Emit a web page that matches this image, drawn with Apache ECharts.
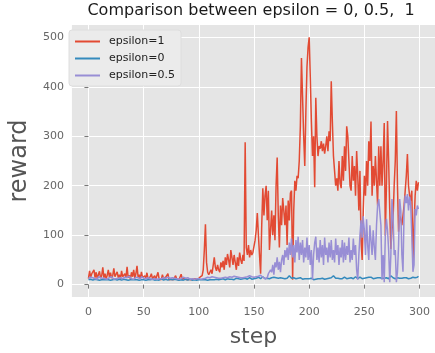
<!DOCTYPE html>
<html>
<head>
<meta charset="utf-8">
<script src="https://cdn.jsdelivr.net/npm/echarts@6/dist/echarts.min.js"></script>
<style>
html,body{margin:0;padding:0;background:#ffffff;}
#main{width:435px;height:353px;}
</style>
</head>
<body>
<div id="main"></div>
<script>
// ---- data ----
const titleText = 'Comparison between epsilon = 0, 0.5,  1';
const seriesNames = ['epsilon=1', 'epsilon=0', 'epsilon=0.5'];
const xTicks = [0, 50, 100, 150, 200, 250, 300];
const yTicks = [0, 100, 200, 300, 400, 500];

const rewardEps1 = [
12,28,15,22,18,30,14,25,12,20, 27,13,18,35,14,22,12,19,30,15,
24,13,18,33,16,12,26,14,20,11, 28,16,13,22,15,36,14,19,12,25,
16,30,13,22,38,15,20,12,26,14, 11,18,13,24,12,10,16,22,12,14,
18,11,13,25,12,14,10,20,13,11, 15,12,22,10,13,11,14,10,12,18,
11,13,10,12,21,11,10,13,11,10, 14,11,12,10,13,11,10,12,14,11,
12,15,13,18,30,70,122,45,25,20, 18,30,22,26,55,35,28,40,30,25,
45,35,48,30,55,40,62,50,35,70, 55,40,60,45,30,55,38,65,50,42,
60,48,288,75,60,80,55,70,60,65, 65,90,110,145,100,60,22,120,195,140,
180,200,130,190,70,110,150,100,140,90, 200,257,140,75,160,120,175,150,120,160,
80,170,130,185,190,10,150,210,190,220, 215,250,320,458,380,300,240,350,440,480,
500,420,330,260,300,197,378,300,260,280, 275,290,270,285,265,280,300,270,310,290,
411,330,260,230,200,215,190,250,205,195, 260,210,280,230,320,300,250,200,190,260,
210,240,180,270,220,150,230,90,50,150, 220,180,250,200,290,250,330,180,240,200,
260,210,160,280,200,280,200,250,327,99, 200,331,250,150,72,110,133,200,250,351,
200,107,140,133,120,140,160,190,220,264, 200,180,170,190,42,120,180,210,190,207
];

const rewardEps0 = [
10,9,11,10,9,10,11,9,10,10, 9,11,10,9,10,12,10,9,10,11,
9,10,10,9,11,10,9,10,11,10, 9,10,11,9,10,10,9,11,10,9,
10,12,10,9,10,11,9,10,10,9, 10,11,9,10,10,11,10,9,11,10,
9,10,10,11,9,10,12,10,9,10, 11,10,9,10,11,9,10,10,11,9,
10,10,9,11,10,10,9,10,11,10, 9,10,11,10,9,10,10,11,9,10,
10,11,10,9,10,12,10,10,9,11, 10,9,10,11,10,10,11,9,10,12,
11,10,12,11,10,11,12,10,11,12, 11,12,10,11,13,11,12,10,11,12,
12,11,13,12,11,12,14,12,11,13, 12,14,13,12,15,13,12,14,16,13,
12,14,13,15,12,13,14,12,15,13, 14,12,13,16,14,12,13,15,12,14,
13,15,18,16,13,12,14,13,12,14, 13,12,14,12,11,13,12,14,12,11,
12,11,13,12,10,12,11,13,12,11, 12,14,13,12,11,13,12,11,13,12,
14,16,18,15,13,12,13,14,12,13, 12,13,15,13,12,14,13,12,14,13,
12,14,16,14,12,13,15,13,12,14, 13,12,14,13,15,17,15,13,12,14,
13,12,14,16,14,12,13,15,13,12, 14,13,12,14,18,16,14,13,12,13,
14,12,13,15,13,12,14,16,14,13, 12,14,13,12,15,17,14,13,15,17
];

const rewardEps05 = [
13,11,15,12,14,17,12,13,11,16, 12,14,11,13,16,12,15,11,13,14,
12,16,13,11,14,12,15,13,11,14, 16,12,13,15,11,14,12,17,13,12,
14,11,13,15,12,14,13,11,16,12, 13,15,12,11,14,13,12,15,11,13,
12,14,11,13,12,15,12,11,14,12, 13,11,15,12,13,11,14,12,13,11,
12,14,11,13,12,11,15,12,13,11, 14,12,11,13,12,15,11,13,12,14,
12,13,11,14,12,16,13,12,15,13, 14,12,16,13,15,12,14,17,13,15,
13,16,14,12,15,18,14,13,16,14, 15,13,17,14,16,13,15,18,14,16,
14,17,15,13,16,14,18,15,16,14, 15,18,16,14,17,15,19,16,15,17,
12,15,14,22,18,30,25,40,20,45, 35,55,30,46,25,50,60,40,70,55,
75,50,85,60,93,55,80,45,90,65, 97,50,85,60,90,45,75,55,95,50,
80,40,70,10,60,85,97,50,75,45, 90,55,80,40,95,60,75,45,85,55,
90,50,70,45,93,60,80,40,75,55, 90,45,85,50,78,60,95,45,70,50,
93,60,80,30,10,60,100,130,95,138, 110,60,132,80,50,120,90,60,110,75,
50,120,160,173,147,120,10,60,5,100, 133,110,70,5,60,173,140,60,70,5,
26,80,173,150,60,26,150,180,165,183, 150,178,160,100,26,40,153,140,160,153
];

const colors = ['#E24A33', '#348ABD', '#988ED5'];
const values = [rewardEps1, rewardEps0, rewardEps05];

const chart = echarts.init(document.getElementById('main'), null, {renderer: 'canvas'});
const font = 'DejaVu Sans';

const series = seriesNames.map((name, i) => ({
  name: name,
  type: 'line',
  data: values[i].map((v, k) => [k, v]),
  symbol: 'none',
  lineStyle: {width: 1.5, color: colors[i]},
  itemStyle: {color: colors[i]},
  animation: false,
  z: 2 + i
}));

chart.setOption({
  animation: false,
  backgroundColor: '#ffffff',
  title: {
    text: titleText,
    left: 251,
    top: 3,
    textAlign: 'center',
    padding: 0,
    textStyle: {fontFamily: font, fontSize: 16, fontWeight: 'normal', color: '#1a1a1a'}
  },
  legend: {
    orient: 'vertical',
    left: 69,
    top: 30,
    padding: [6, 6, 5, 6],
    itemWidth: 25,
    itemHeight: 2,
    itemGap: 6,
    icon: 'rect',
    backgroundColor: '#ebebeb',
    borderColor: '#dedede',
    borderWidth: 1,
    borderRadius: 3,
    textStyle: {fontFamily: font, fontSize: 11, color: '#222', padding: [0, 0, 0, 4]},
    data: seriesNames
  },
  grid: {
    left: 67, right: -4, top: 25, height: 273.5,
    show: true, backgroundColor: '#E5E5E5', borderWidth: 0,
    containLabel: false
  },
  xAxis: {
    type: 'value', min: -15, max: 314,
    name: 'step', nameLocation: 'middle', nameGap: 29,
    nameTextStyle: {fontFamily: font, fontSize: 22, color: '#555555'},
    axisLine: {show: false},
    axisTick: {show: true, inside: false, length: 4, customValues: xTicks, lineStyle: {color: '#777', width: 1}},
    axisLabel: {customValues: xTicks, margin: 10, fontFamily: font, fontSize: 11, color: '#666666'},
    splitLine: {show: true, lineStyle: {color: '#ffffff', width: 1}}
  },
  yAxis: {
    type: 'value', min: -25, max: 525,
    name: 'reward', nameLocation: 'middle', nameGap: 29,
    nameTextStyle: {fontFamily: font, fontSize: 24, color: '#555555'},
    axisLine: {show: false},
    axisTick: {show: true, inside: false, length: 4, customValues: yTicks, lineStyle: {color: '#777', width: 1}},
    axisLabel: {customValues: yTicks, margin: 8, fontFamily: font, fontSize: 11, color: '#666666'},
    splitLine: {show: true, lineStyle: {color: '#ffffff', width: 1}}
  },
  series: series
});
</script>
</body>
</html>
